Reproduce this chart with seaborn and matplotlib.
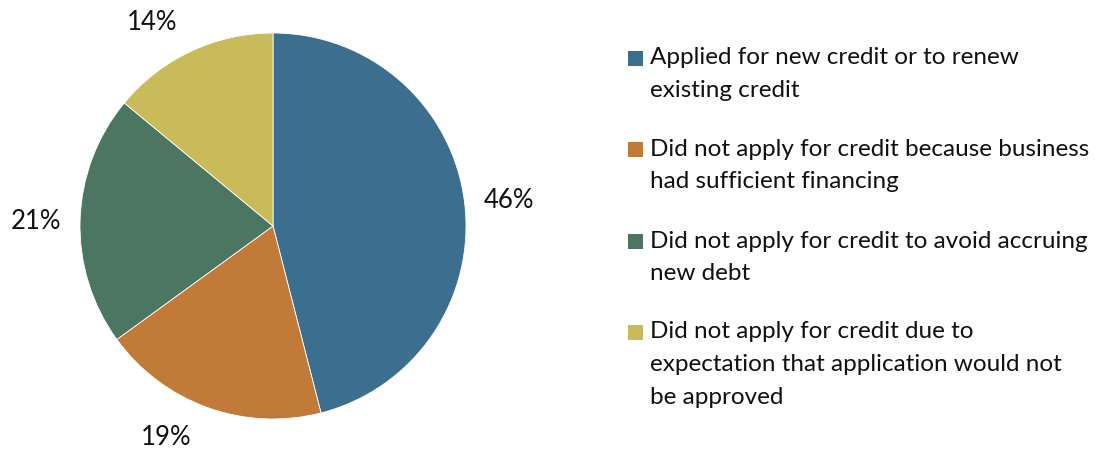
import matplotlib
matplotlib.use("Agg")
import matplotlib.pyplot as plt
from matplotlib.patches import Rectangle
import numpy as np
import seaborn as sns

# Share of businesses by credit-application decision
categories = [
    "Applied for new credit or to renew\nexisting credit",
    "Did not apply for credit because business\nhad sufficient financing",
    "Did not apply for credit to avoid accruing\nnew debt",
    "Did not apply for credit due to\nexpectation that application would not\nbe approved",
]
shares = [46, 19, 21, 14]
colors = ["#3C6E8F", "#C17A37", "#4B7762", "#C9BA5A"]

sns.set_theme(style="white")
plt.rcParams["font.family"] = ["Lato", "DejaVu Sans"]
palette = sns.color_palette(colors)

W, H = 1097, 451
fig = plt.figure(figsize=(W / 100, H / 100), dpi=100)
fig.patch.set_facecolor("white")

FS = 17.5
cx, cy, r = 273, 226, 193
ax = fig.add_axes([(cx - r) / W, (H - cy - r) / H, 2 * r / W, 2 * r / H])
wedges, texts, autotexts = ax.pie(
    shares,
    colors=palette,
    startangle=90,
    counterclock=False,
    autopct="%.0f%%",
    pctdistance=1.22,
    wedgeprops=dict(edgecolor="white", linewidth=0.6),
    textprops=dict(fontsize=18.5, color="#111111"),
)

# Nudge the value labels to sit clear of the slice edges
label_angles = [6.1, -116.8, 179.0, 120.7]
label_dist = 1.228
for t, a in zip(autotexts, label_angles):
    t.set_position((label_dist * np.cos(np.radians(a)),
                    label_dist * np.sin(np.radians(a))))

ax.set_xlim(-1, 1)
ax.set_ylim(-1, 1)
ax.set_aspect("equal")
ax.axis("off")

# Legend drawn as colored squares beside wrapped labels
first_line_y = [58, 149, 241, 332]
line_gap = 32.5
box = 15
for label, color, y0 in zip(categories, palette, first_line_y):
    fig.patches.append(
        Rectangle((628 / W, (H - y0 - box / 2) / H), box / W, box / H,
                  transform=fig.transFigure, facecolor=color, edgecolor="none")
    )
    for j, line in enumerate(label.split("\n")):
        fig.text(650 / W, (H - y0 - j * line_gap) / H, line,
                 fontsize=FS, color="#111111", va="center", ha="left")

fig.savefig("out.png", dpi=100, facecolor="white")
